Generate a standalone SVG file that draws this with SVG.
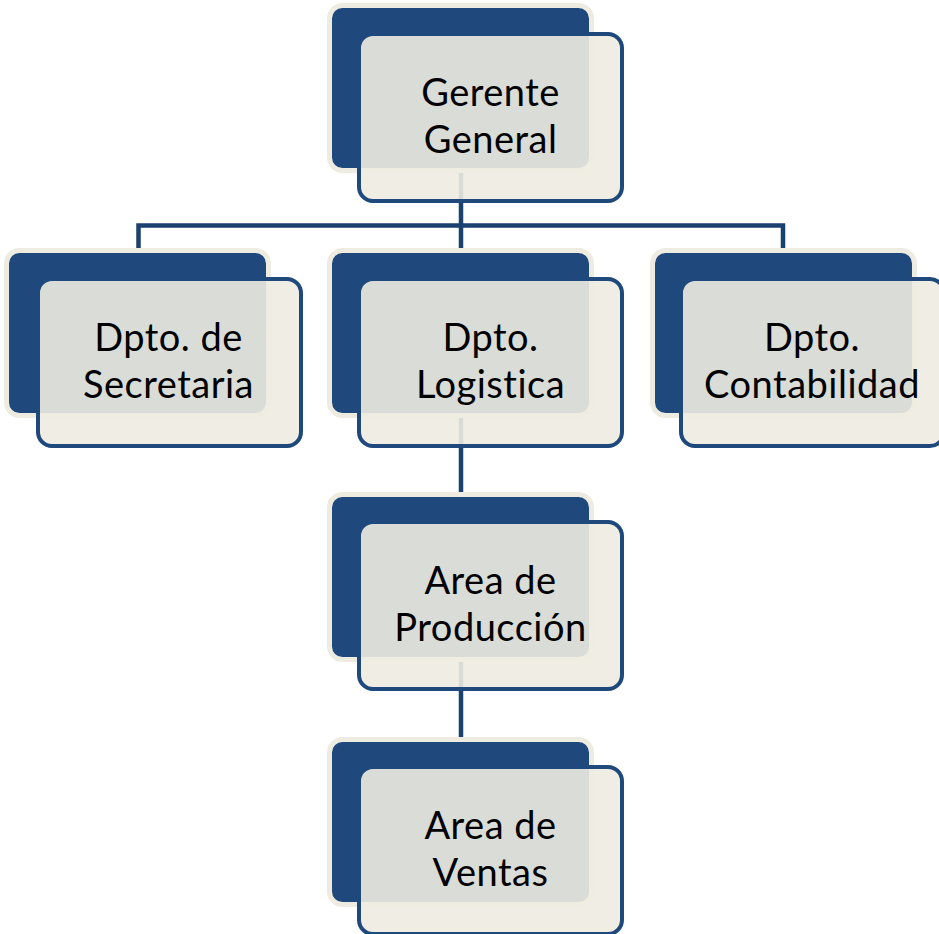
<svg xmlns="http://www.w3.org/2000/svg" width="939" height="934" viewBox="0 0 939 934">
<style>
.back{fill:#1f497d;stroke:#eeece1;stroke-width:5}
.front{fill:#eeece1;fill-opacity:0.9;stroke:#1f497d;stroke-width:4}
.lbl{font-family:Lato,"Open Sans",sans-serif;font-size:38px;letter-spacing:0.5px;font-variant-ligatures:none;fill:#000;text-anchor:middle}
.conn{fill:none;stroke:#1b416f;stroke-width:4.5}
</style>
<rect width="939" height="934" fill="#fff"/>
<g id="connectors">
<path class="conn" d="M461 172V248"/>
<path class="conn" d="M138.5 248V225.5H783V248"/>
<path class="conn" d="M461 415V494"/>
<path class="conn" d="M461 660V739"/>
</g>
<g id="gerente">
<rect class="back" x="329.5" y="5.5" width="262" height="165" rx="13"/>
<rect class="front" x="359" y="34" width="263" height="167" rx="14"/>
<text class="lbl" x="490.5" y="106">Gerente</text>
<text class="lbl" x="490.5" y="153">General</text>
</g>
<g id="secretaria">
<rect class="back" x="6.5" y="250.5" width="262" height="165" rx="13"/>
<rect class="front" x="38" y="279" width="263" height="167" rx="14"/>
<text class="lbl" x="168.5" y="350.5">Dpto. de</text>
<text class="lbl" x="168.5" y="397.5">Secretaria</text>
</g>
<g id="logistica">
<rect class="back" x="329.5" y="250.5" width="262" height="165" rx="13"/>
<rect class="front" x="359" y="279" width="263" height="167" rx="14"/>
<text class="lbl" x="490.5" y="350.5">Dpto.</text>
<text class="lbl" x="490.5" y="397.5">Logistica</text>
</g>
<g id="contabilidad">
<rect class="back" x="652.5" y="250.5" width="262" height="165" rx="13"/>
<rect class="front" x="681" y="279" width="263" height="167" rx="14"/>
<text class="lbl" x="812" y="350.5">Dpto.</text>
<text class="lbl" x="812" y="397.5">Contabilidad</text>
</g>
<g id="produccion">
<rect class="back" x="329.5" y="494.5" width="262" height="165" rx="13"/>
<rect class="front" x="359" y="522" width="263" height="167" rx="14"/>
<text class="lbl" x="490.5" y="594">Area de</text>
<text class="lbl" x="490.5" y="641">Producción</text>
</g>
<g id="ventas">
<rect class="back" x="329.5" y="739.5" width="262" height="165" rx="13"/>
<rect class="front" x="359" y="767" width="263" height="167" rx="14"/>
<text class="lbl" x="490.5" y="839">Area de</text>
<text class="lbl" x="490.5" y="886">Ventas</text>
</g>
</svg>
